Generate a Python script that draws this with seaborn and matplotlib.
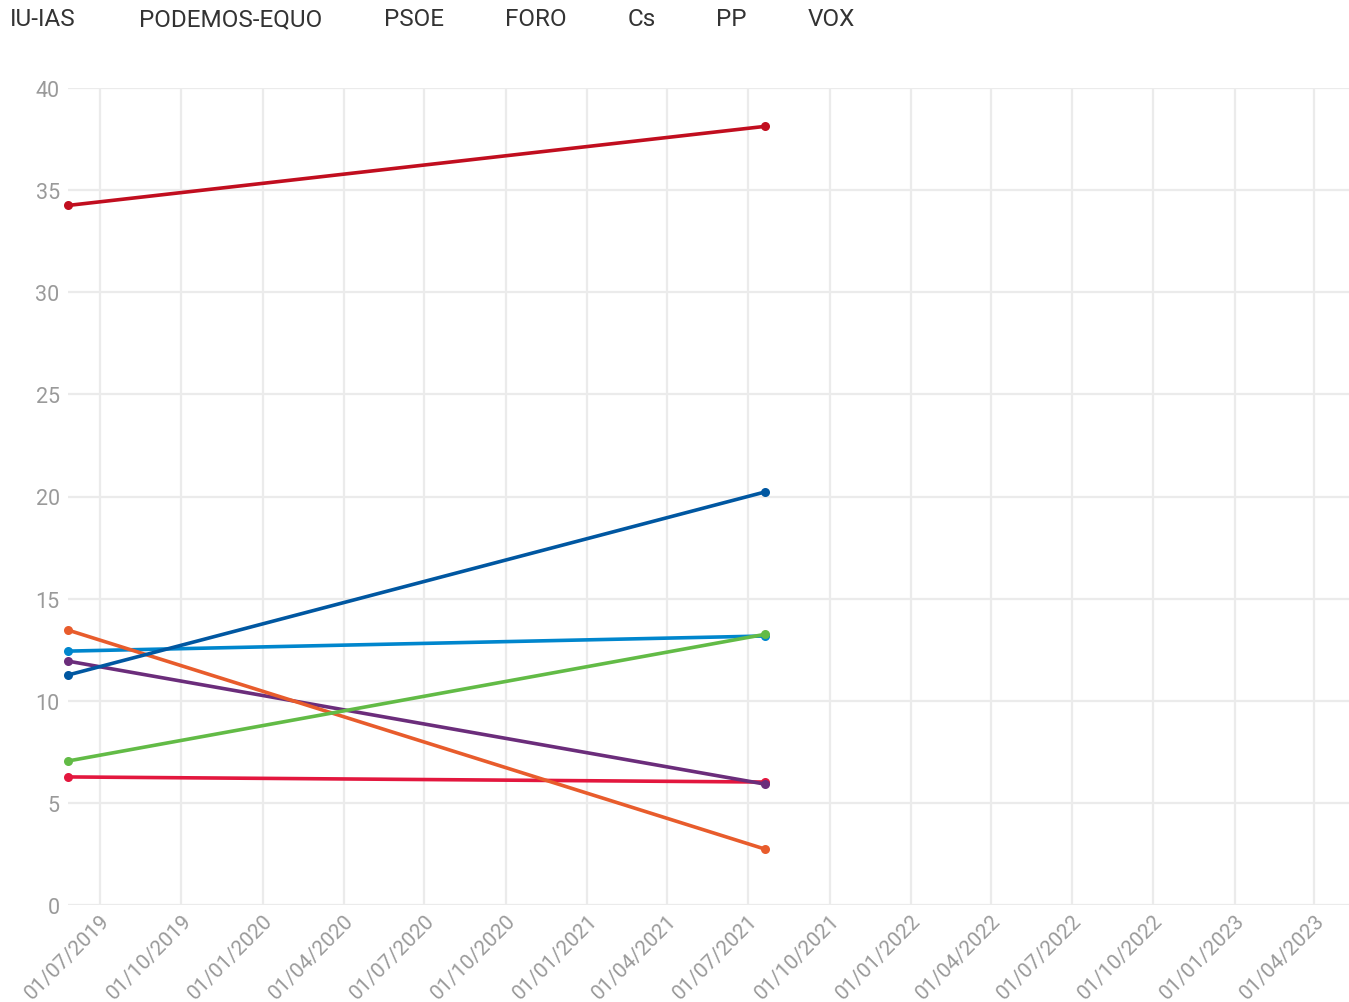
import matplotlib

matplotlib.use("Agg")
import matplotlib.dates as mdates
import matplotlib.pyplot as plt
import pandas as pd
import seaborn as sns

# poll series: first and last reading per party
FECHAS = ["2019-05-26", "2021-07-20"]
PARTIDOS = ["IU-IAS", "PODEMOS-EQUO", "PSOE", "FORO", "Cs", "PP", "VOX"]
IU_IAS = [6.27, 6.02]
PODEMOS_EQUO = [11.94, 5.92]
PSOE = [34.25, 38.12]
FORO = [12.43, 13.17]
CS = [13.46, 2.74]
PP = [11.26, 20.22]
VOX = [7.05, 13.25]
COLORES = ["#e3173e", "#6b2d7b", "#c10e1f", "#0086cd", "#e85c2c", "#0057a1", "#62bb46"]

X_MIN, X_MAX = "2019-05-26", "2023-05-10"

series = [IU_IAS, PODEMOS_EQUO, PSOE, FORO, CS, PP, VOX]
df = pd.DataFrame(
    [(p, pd.Timestamp(f), v) for p, vals in zip(PARTIDOS, series) for f, v in zip(FECHAS, vals)],
    columns=["partido", "fecha", "valor"],
)

sns.set_theme(style="white")
plt.rcParams["font.family"] = ["Roboto", "DejaVu Sans"]

fig = plt.figure(figsize=(13.49, 10.03), dpi=100)
ax = fig.add_axes([68 / 1349, 1 - 906 / 1003, 1 - 68 / 1349, (906 - 89) / 1003])

sns.lineplot(
    data=df, x="fecha", y="valor", hue="partido", hue_order=PARTIDOS,
    palette=COLORES, marker="o", markersize=6.5, markeredgewidth=0,
    linewidth=2.6, legend=False, ax=ax, zorder=3,
)
for ln in ax.lines:
    ln.set_clip_on(False)

ax.set_xlim(pd.Timestamp(X_MIN), pd.Timestamp(X_MAX))
ax.set_ylim(0, 40)
ax.set_yticks(range(0, 41, 5))
ax.xaxis.set_major_locator(mdates.MonthLocator(bymonth=[1, 4, 7, 10]))
ax.xaxis.set_major_formatter(mdates.DateFormatter("%d/%m/%Y"))
ax.grid(True, color="#ebebeb", linewidth=1.6)
ax.set_axisbelow(True)
for s in ax.spines.values():
    s.set_visible(False)
ax.set_xlabel("")
ax.set_ylabel("")
ax.tick_params(axis="both", length=0, labelcolor="#9a9a9a", labelsize=15.5)
ax.tick_params(axis="x", labelsize=15, pad=4)
ax.tick_params(axis="y", pad=6)
for lab in ax.get_xticklabels():
    lab.set_rotation(45)
    lab.set_ha("right")
    lab.set_rotation_mode("anchor")

# text-only legend across the top
LEYENDA_X = [10, 139, 384, 505, 628, 716, 808]
for nombre, x in zip(PARTIDOS, LEYENDA_X):
    fig.text(x / 1349, 1 - 20 / 1003, nombre, ha="left", va="center", fontsize=17.5, color="#333333")

fig.savefig("out.png", dpi=100, facecolor="white")
